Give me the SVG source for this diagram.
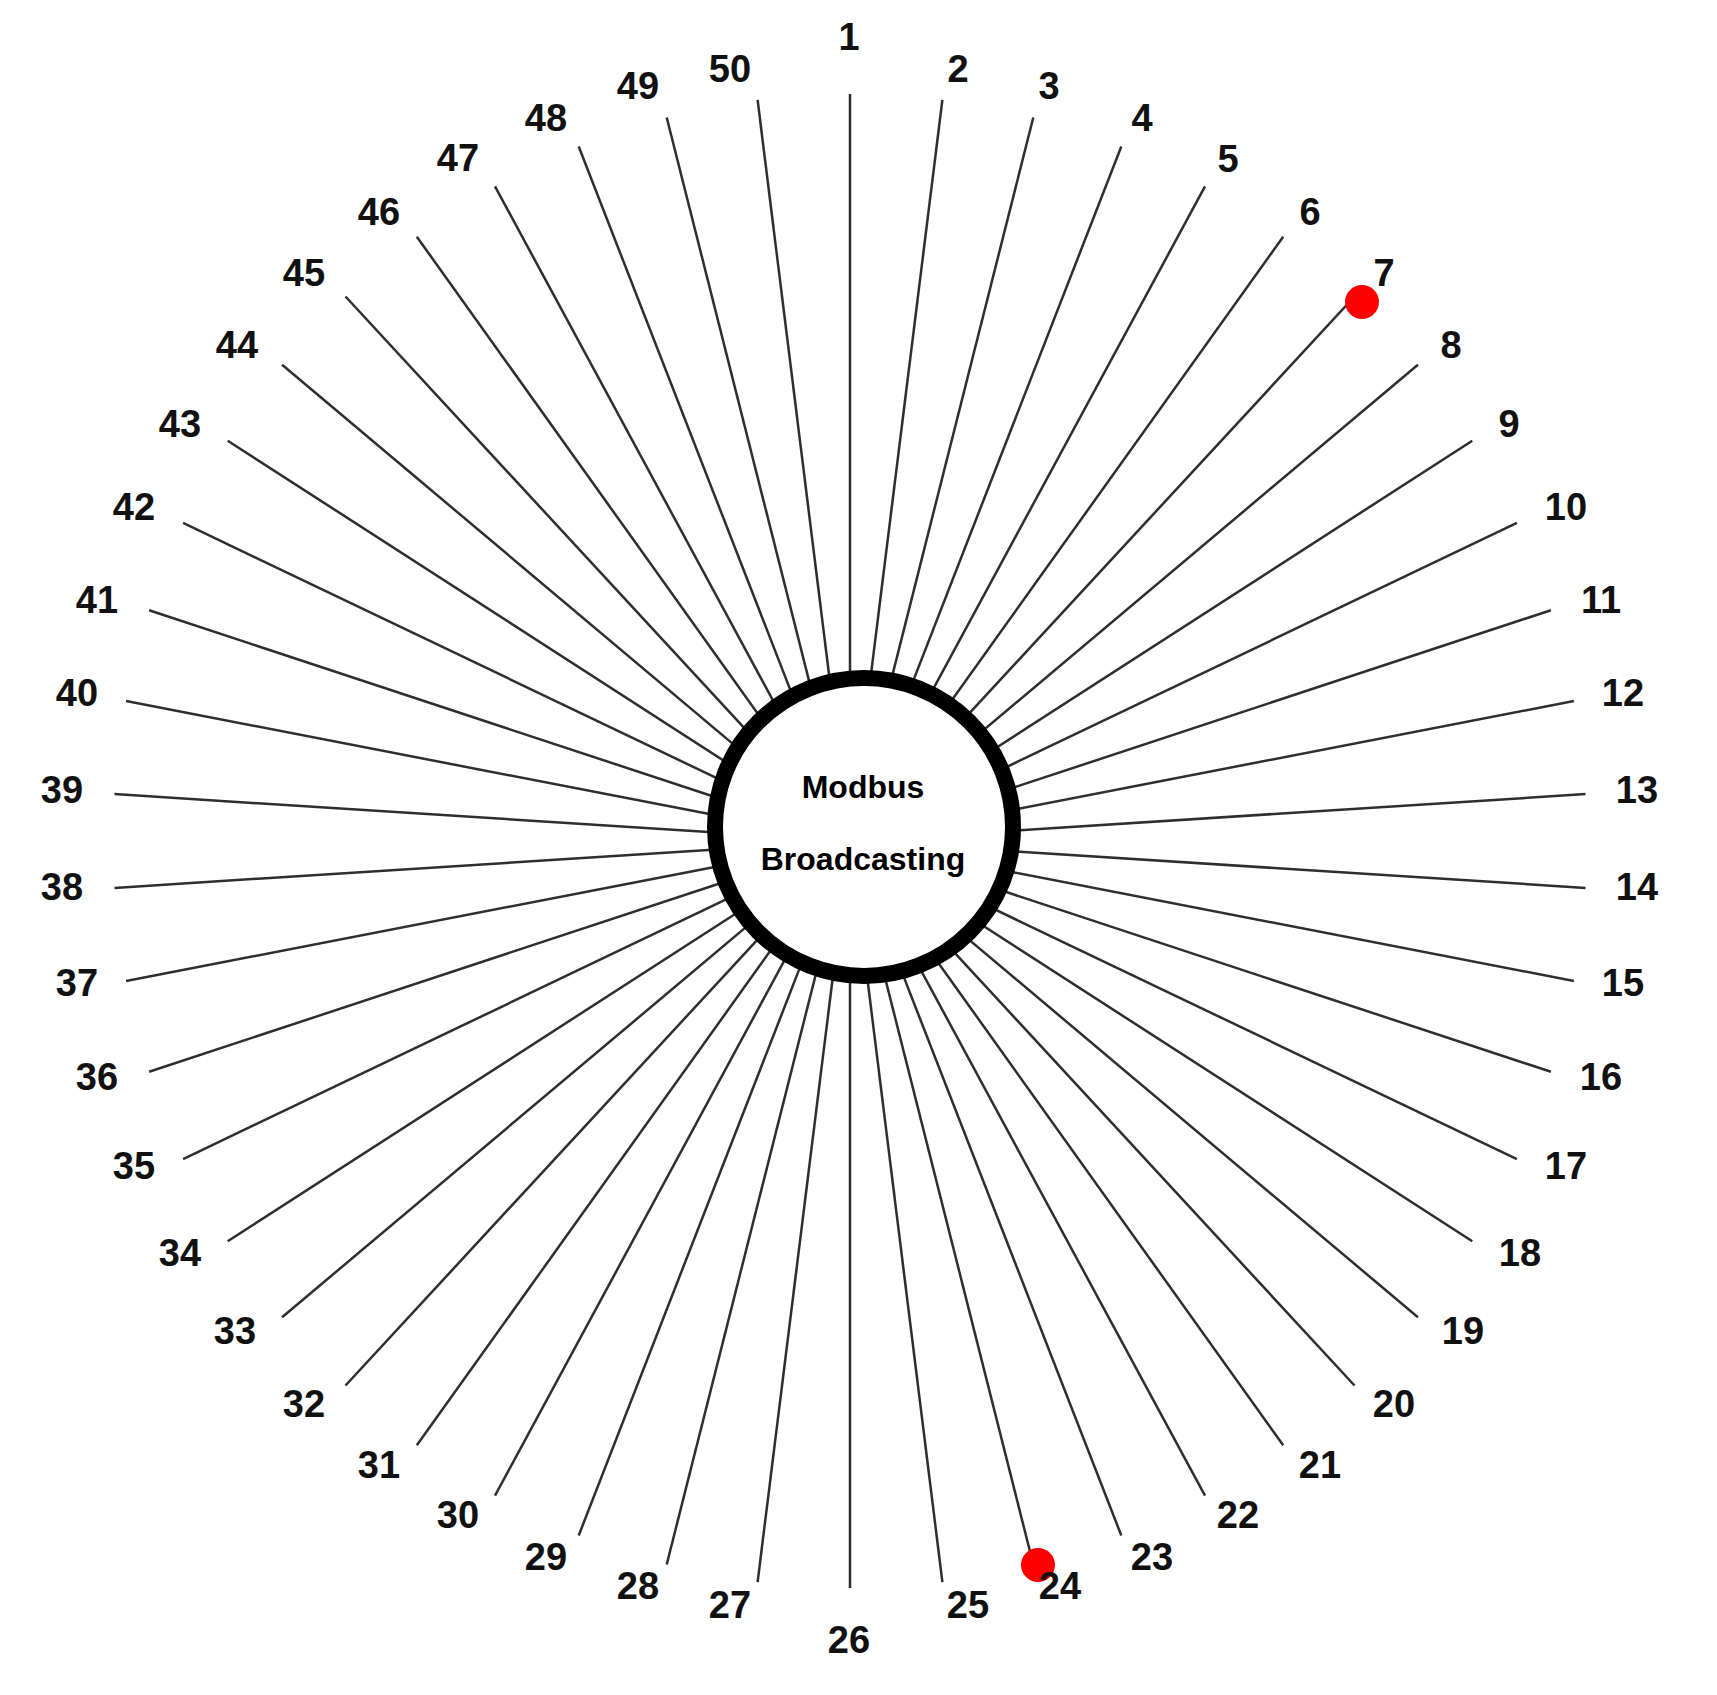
<svg xmlns="http://www.w3.org/2000/svg" width="1717" height="1695" viewBox="0 0 1717 1695">
<style>
.ray{stroke:#2e2e2e;stroke-width:2.5;fill:none}
.lbl{font-family:"Liberation Sans",Arial,sans-serif;font-weight:bold;font-size:38px;fill:#111;text-anchor:middle}
.hubtxt{font-family:"Liberation Sans",Arial,sans-serif;font-weight:bold;font-size:32px;fill:#000;text-anchor:middle}
.dot{fill:#ff0000}
</style>
<rect width="1717" height="1695" fill="#fff"/>
<g id="connectors">
<line class="ray" x1="850" y1="711" x2="850" y2="94"/>
<line class="ray" x1="866.3" y1="712" x2="942.4" y2="99.9"/>
<line class="ray" x1="882.3" y1="715.1" x2="1033.3" y2="117.5"/>
<line class="ray" x1="897.9" y1="720.1" x2="1121.3" y2="146.5"/>
<line class="ray" x1="912.6" y1="727.1" x2="1205" y2="186.4"/>
<line class="ray" x1="926.4" y1="735.8" x2="1283.2" y2="236.7"/>
<line class="ray" x1="939" y1="746.2" x2="1354.5" y2="296.5"/>
<line class="ray" x1="950.2" y1="758.1" x2="1417.9" y2="364.8"/>
<line class="ray" x1="959.8" y1="771.3" x2="1472.3" y2="440.7"/>
<line class="ray" x1="967.6" y1="785.6" x2="1516.9" y2="522.9"/>
<line class="ray" x1="973.6" y1="800.8" x2="1550.9" y2="610.2"/>
<line class="ray" x1="977.7" y1="816.6" x2="1573.9" y2="701"/>
<line class="ray" x1="979.7" y1="832.8" x2="1585.5" y2="794.1"/>
<line class="ray" x1="979.7" y1="849.2" x2="1585.5" y2="887.9"/>
<line class="ray" x1="977.7" y1="865.4" x2="1573.9" y2="981"/>
<line class="ray" x1="973.6" y1="881.2" x2="1550.9" y2="1071.8"/>
<line class="ray" x1="967.6" y1="896.4" x2="1516.9" y2="1159.1"/>
<line class="ray" x1="959.8" y1="910.7" x2="1472.3" y2="1241.3"/>
<line class="ray" x1="950.2" y1="923.9" x2="1417.9" y2="1317.2"/>
<line class="ray" x1="939" y1="935.8" x2="1354.5" y2="1385.5"/>
<line class="ray" x1="926.4" y1="946.2" x2="1283.2" y2="1445.3"/>
<line class="ray" x1="912.6" y1="954.9" x2="1205" y2="1495.6"/>
<line class="ray" x1="897.9" y1="961.9" x2="1121.3" y2="1535.5"/>
<line class="ray" x1="882.3" y1="966.9" x2="1033.3" y2="1564.5"/>
<line class="ray" x1="866.3" y1="970" x2="942.4" y2="1582.1"/>
<line class="ray" x1="850" y1="971" x2="850" y2="1588"/>
<line class="ray" x1="833.7" y1="970" x2="757.6" y2="1582.1"/>
<line class="ray" x1="817.7" y1="966.9" x2="666.7" y2="1564.5"/>
<line class="ray" x1="802.1" y1="961.9" x2="578.7" y2="1535.5"/>
<line class="ray" x1="787.4" y1="954.9" x2="495" y2="1495.6"/>
<line class="ray" x1="773.6" y1="946.2" x2="416.8" y2="1445.3"/>
<line class="ray" x1="761" y1="935.8" x2="345.5" y2="1385.5"/>
<line class="ray" x1="749.8" y1="923.9" x2="282.1" y2="1317.2"/>
<line class="ray" x1="740.2" y1="910.7" x2="227.7" y2="1241.3"/>
<line class="ray" x1="732.4" y1="896.4" x2="183.1" y2="1159.1"/>
<line class="ray" x1="726.4" y1="881.2" x2="149.1" y2="1071.8"/>
<line class="ray" x1="722.3" y1="865.4" x2="126.1" y2="981"/>
<line class="ray" x1="720.3" y1="849.2" x2="114.5" y2="887.9"/>
<line class="ray" x1="720.3" y1="832.8" x2="114.5" y2="794.1"/>
<line class="ray" x1="722.3" y1="816.6" x2="126.1" y2="701"/>
<line class="ray" x1="726.4" y1="800.8" x2="149.1" y2="610.2"/>
<line class="ray" x1="732.4" y1="785.6" x2="183.1" y2="522.9"/>
<line class="ray" x1="740.2" y1="771.3" x2="227.7" y2="440.7"/>
<line class="ray" x1="749.8" y1="758.1" x2="282.1" y2="364.8"/>
<line class="ray" x1="761" y1="746.2" x2="345.5" y2="296.5"/>
<line class="ray" x1="773.6" y1="735.8" x2="416.8" y2="236.7"/>
<line class="ray" x1="787.4" y1="727.1" x2="495" y2="186.4"/>
<line class="ray" x1="802.1" y1="720.1" x2="578.7" y2="146.5"/>
<line class="ray" x1="817.7" y1="715.1" x2="666.7" y2="117.5"/>
<line class="ray" x1="833.7" y1="712" x2="757.6" y2="99.9"/>
</g>
<g id="hub">
<circle cx="864" cy="827" r="149" fill="#fff" stroke="#000" stroke-width="16"/>
<text class="hubtxt" x="863" y="798">Modbus</text>
<text class="hubtxt" x="863" y="870">Broadcasting</text>
</g>
<g id="node-1"><text class="lbl" x="849" y="50">1</text></g>
<g id="node-2"><text class="lbl" x="958" y="82">2</text></g>
<g id="node-3"><text class="lbl" x="1049" y="99">3</text></g>
<g id="node-4"><text class="lbl" x="1142" y="131">4</text></g>
<g id="node-5"><text class="lbl" x="1228" y="172">5</text></g>
<g id="node-6"><text class="lbl" x="1310" y="225">6</text></g>
<g id="node-7"><text class="lbl" x="1384" y="286">7</text><circle class="dot" cx="1362" cy="302" r="17"/></g>
<g id="node-8"><text class="lbl" x="1451" y="358">8</text></g>
<g id="node-9"><text class="lbl" x="1509" y="437">9</text></g>
<g id="node-10"><text class="lbl" x="1566" y="520">10</text></g>
<g id="node-11"><text class="lbl" x="1601" y="613">11</text></g>
<g id="node-12"><text class="lbl" x="1623" y="706">12</text></g>
<g id="node-13"><text class="lbl" x="1637" y="803">13</text></g>
<g id="node-14"><text class="lbl" x="1637" y="900">14</text></g>
<g id="node-15"><text class="lbl" x="1623" y="996">15</text></g>
<g id="node-16"><text class="lbl" x="1601" y="1090">16</text></g>
<g id="node-17"><text class="lbl" x="1566" y="1179">17</text></g>
<g id="node-18"><text class="lbl" x="1520" y="1266">18</text></g>
<g id="node-19"><text class="lbl" x="1463" y="1344">19</text></g>
<g id="node-20"><text class="lbl" x="1394" y="1417">20</text></g>
<g id="node-21"><text class="lbl" x="1320" y="1478">21</text></g>
<g id="node-22"><text class="lbl" x="1238" y="1528">22</text></g>
<g id="node-23"><text class="lbl" x="1152" y="1570">23</text></g>
<g id="node-24"><circle class="dot" cx="1038" cy="1565" r="17"/><text class="lbl" x="1060" y="1599">24</text></g>
<g id="node-25"><text class="lbl" x="968" y="1618">25</text></g>
<g id="node-26"><text class="lbl" x="849" y="1653">26</text></g>
<g id="node-27"><text class="lbl" x="730" y="1618">27</text></g>
<g id="node-28"><text class="lbl" x="638" y="1599">28</text></g>
<g id="node-29"><text class="lbl" x="546" y="1570">29</text></g>
<g id="node-30"><text class="lbl" x="458" y="1528">30</text></g>
<g id="node-31"><text class="lbl" x="379" y="1478">31</text></g>
<g id="node-32"><text class="lbl" x="304" y="1417">32</text></g>
<g id="node-33"><text class="lbl" x="235" y="1344">33</text></g>
<g id="node-34"><text class="lbl" x="180" y="1266">34</text></g>
<g id="node-35"><text class="lbl" x="134" y="1179">35</text></g>
<g id="node-36"><text class="lbl" x="97" y="1090">36</text></g>
<g id="node-37"><text class="lbl" x="77" y="996">37</text></g>
<g id="node-38"><text class="lbl" x="62" y="900">38</text></g>
<g id="node-39"><text class="lbl" x="62" y="803">39</text></g>
<g id="node-40"><text class="lbl" x="77" y="706">40</text></g>
<g id="node-41"><text class="lbl" x="97" y="613">41</text></g>
<g id="node-42"><text class="lbl" x="134" y="520">42</text></g>
<g id="node-43"><text class="lbl" x="180" y="437">43</text></g>
<g id="node-44"><text class="lbl" x="237" y="358">44</text></g>
<g id="node-45"><text class="lbl" x="304" y="286">45</text></g>
<g id="node-46"><text class="lbl" x="379" y="225">46</text></g>
<g id="node-47"><text class="lbl" x="458" y="171">47</text></g>
<g id="node-48"><text class="lbl" x="546" y="131">48</text></g>
<g id="node-49"><text class="lbl" x="638" y="99">49</text></g>
<g id="node-50"><text class="lbl" x="730" y="82">50</text></g>
</svg>
